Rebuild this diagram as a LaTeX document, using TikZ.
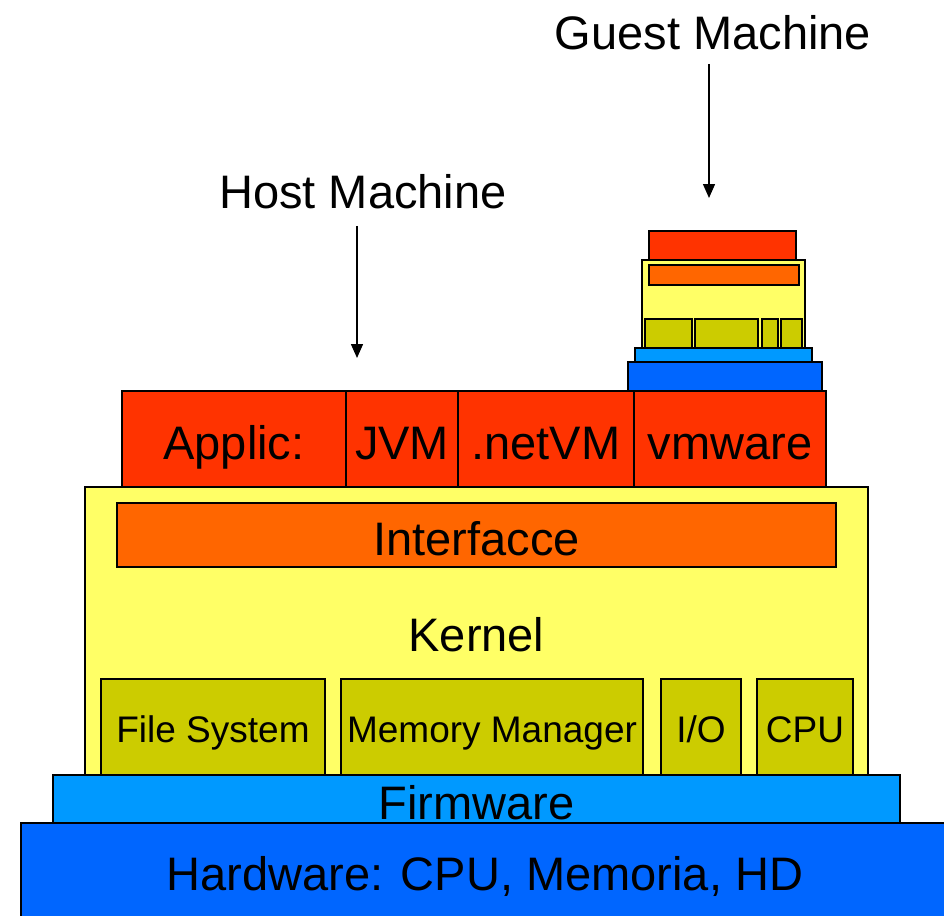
\documentclass[tikz,border=0pt]{standalone}
\usepackage{fontspec}
\setmainfont{Liberation Sans}
\usetikzlibrary{arrows.meta}
\definecolor{hwblue}{HTML}{0066FF}
\definecolor{fwblue}{HTML}{0099FF}
\definecolor{kernyellow}{HTML}{FFFF66}
\definecolor{ifaceorange}{HTML}{FF6600}
\definecolor{appred}{HTML}{FF3300}
\definecolor{modolive}{HTML}{CCCC00}
\begin{document}
\begin{tikzpicture}[x=1pt, y=-1pt,
  layer/.style={draw, line width=1.5pt, inner sep=0pt, outer sep=0pt,
    text height=40pt, text depth=0pt, font=\fontsize{47}{56}\selectfont},
  module/.style={layer, fill=modolive, minimum height=96pt,
    text height=30pt, font=\fontsize{37}{44}\selectfont},
  app/.style={layer, fill=appred, minimum height=96pt},
  glayer/.style={draw, line width=1.2pt, inner sep=0pt, outer sep=0pt},
  gmodule/.style={glayer, fill=modolive, minimum height=29pt},
  title/.style={anchor=base, font=\fontsize{47}{56}\selectfont},
  arr/.style={-{Triangle[length=14pt, width=12pt]}, line width=1.5pt}]
\clip (0,0) rectangle (944,915);
% host machine
\node[layer, fill=hwblue, minimum width=928pt, minimum height=94pt] (hw) at (485,870) {Hardware: CPU, Memoria, HD};
\node[layer, fill=fwblue, minimum width=847pt, minimum height=48pt] (fw) at (476.5,799) {Firmware};
\node[layer, fill=kernyellow, minimum width=783pt, minimum height=288pt] (kernel) at (476.5,631) {Kernel};
\node[layer, fill=ifaceorange, minimum width=719pt, minimum height=64pt] (iface) at (476.5,535) {Interfacce};
\node[module, minimum width=224pt] (fs) at (213,727) {File System};
\node[module, minimum width=302pt] (mm) at (492,727) {Memory Manager};
\node[module, minimum width=80pt] (io) at (701,727) {I/O};
\node[module, minimum width=96pt] (cpu) at (805,727) {CPU};
\node[app, minimum width=224pt] (applic) at (234,439) {Applic:};
\node[app, minimum width=112pt] (jvm) at (402,439) {JVM};
\node[app, minimum width=176pt] (netvm) at (546,439) {.netVM};
\node[app, minimum width=192pt] (vmware) at (730,439) {vmware};
% guest machine
\node[glayer, fill=hwblue, minimum width=194pt, minimum height=29pt] (ghw) at (725,376.5) {};
\node[glayer, fill=fwblue, minimum width=177pt, minimum height=14pt] (gfw) at (723.5,355) {};
\node[glayer, fill=kernyellow, minimum width=163pt, minimum height=88pt] (gkernel) at (723.5,304) {};
\node[glayer, fill=ifaceorange, minimum width=150pt, minimum height=20pt] (giface) at (724,275) {};
\node[gmodule, minimum width=47pt] (gfs) at (668.5,333.5) {};
\node[gmodule, minimum width=63pt] (gmm) at (726.5,333.5) {};
\node[gmodule, minimum width=16pt] (gio) at (770,333.5) {};
\node[gmodule, minimum width=21pt] (gcpu) at (791.5,333.5) {};
\node[glayer, fill=appred, minimum width=147pt, minimum height=29pt] (gapps) at (722.5,245.5) {};
% labels
\node[title] (host) at (363,208) {Host Machine};
\node[title] (guest) at (713,50) {Guest Machine};
% arrows
\coordinate (hosttip) at (357,358);
\coordinate (guesttip) at (709,198);
\draw[arr] ([yshift=-14pt]host.south -| hosttip) -- (hosttip);
\draw[arr] ([yshift=-10pt]guest.south -| guesttip) -- (guesttip);
\end{tikzpicture}
\end{document}
